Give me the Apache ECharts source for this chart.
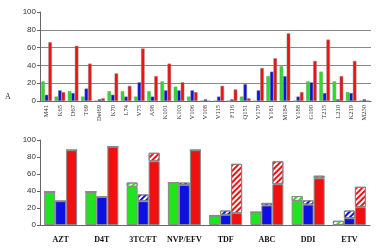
<!DOCTYPE html>
<html>
<head>
<meta charset="utf-8">
<script src="https://cdn.jsdelivr.net/npm/echarts@6/dist/echarts.min.js"></script>
<style>
html,body{margin:0;padding:0;background:#fff;}
#echarts{width:378px;height:252px;}
</style>
</head>
<body>
<div id="echarts"></div>
<script>
// top panel: mutations
var mutations = ['M41','K65','D67','T69','Del69','K70','L74','V75','A98','K101','K103','V106','V108',
	'V115','F116','Q151','V179','Y181','M184','Y188','G190','T215','L210','K219','M230'];
var mutGreen = [22,5,11,5,0,11,11,5,11,22,16,5,0,0,0,5,0,28,39,0,22,33,22,10,0];
var mutBlue  = [7,12,9,14,2,7,5,21,5,12,12,12,2,5,2,19,12,33,28,5,21,9,2,9,2];
var mutRed   = [66,10,62,42,3,31,17,59,28,42,21,10,0,17,13,3,37,48,76,10,45,69,28,45,0];

// bottom panel: drugs (solid part + hatched part)
var drugs = ['AZT','D4T','3TC/FT','NVP/EFV','TDF','ABC','DDI','ETV'];
var greenSolid = [39,39,45,50,11,15,28,0];
var greenHatch = [0,0,5,0,0,0,6,5];
var blueSolid  = [28,33,28,47,12,23,24,8];
var blueHatch  = [0,0,8,3,5,3,5,9];
var redSolid   = [88,92,75,88,14,48,55,21];
var redHatch   = [0,0,10,0,58,27,3,24];

var yTicks = [0,20,40,60,80,100];

var GREEN = '#1fe51f', BLUE = '#0c10e0', RED = '#f01010';

function hatch(c){
	return {
		color:'#fff',
		borderColor:'#888',
		borderWidth:1,
		decal:{
			symbol:'rect',
			dashArrayX:[1,0],
			dashArrayY:[2,2],
			rotation:-Math.PI/4,
			color:c
		}
	};
}
function solid(c,w){
	return {color:c,borderColor:'#888',borderWidth:w};
}

var myChart = echarts.init(document.querySelector('#echarts'));
var yLabel = {fontSize:8,color:'#333',fontFamily:'Liberation Sans',margin:4};
var option = {
	animation:false,
	graphic:[{type:'text',left:5,top:93,style:{text:'A',font:'8px "Liberation Serif"',fill:'#333'}}],
	grid:[
		{left:40,right:7,top:12,height:89},
		{left:40,right:8,top:140,height:85}
	],
	xAxis:[
		{
			type:'category',gridIndex:0,data:mutations,
			axisLine:{lineStyle:{color:'#666'}},
			axisTick:{length:3,lineStyle:{color:'#666'}},
			axisLabel:{rotate:90,interval:0,fontSize:6.5,fontFamily:'Liberation Serif',color:'#333',margin:4}
		},
		{
			type:'category',gridIndex:1,data:drugs,
			axisLine:{lineStyle:{color:'#666'}},
			axisTick:{length:4,lineStyle:{color:'#666'}},
			axisLabel:{interval:0,fontSize:8,fontWeight:'bold',fontFamily:'Liberation Serif',color:'#111',margin:11}
		}
	],
	yAxis:[
		{
			type:'value',gridIndex:0,min:yTicks[0],max:yTicks[5],interval:20,
			axisLine:{show:true,lineStyle:{color:'#666'}},
			axisTick:{show:true,length:3,lineStyle:{color:'#666'}},
			axisLabel:yLabel,
			// no line drawn at 100
			splitLine:{show:true,lineStyle:{color:['#888','#888','#888','#888','#888','rgba(0,0,0,0)']}}
		},
		{
			type:'value',gridIndex:1,min:yTicks[0],max:yTicks[5],interval:20,
			axisLine:{show:true,lineStyle:{color:'#666'}},
			axisTick:{show:true,length:3,lineStyle:{color:'#666'}},
			axisLabel:yLabel,
			splitLine:{show:false}
		}
	],
	series:[
		{type:'bar',xAxisIndex:0,yAxisIndex:0,data:mutGreen,barGap:'0%',barCategoryGap:'20%',itemStyle:solid(GREEN,0.5)},
		{type:'bar',xAxisIndex:0,yAxisIndex:0,data:mutBlue,itemStyle:solid(BLUE,0.5)},
		{type:'bar',xAxisIndex:0,yAxisIndex:0,data:mutRed,itemStyle:solid(RED,0.5)},

		{type:'bar',xAxisIndex:1,yAxisIndex:1,stack:'g',data:greenSolid,barGap:'0%',barCategoryGap:'20%',itemStyle:solid(GREEN,1)},
		{type:'bar',xAxisIndex:1,yAxisIndex:1,stack:'g',data:greenHatch,itemStyle:hatch(GREEN)},
		{type:'bar',xAxisIndex:1,yAxisIndex:1,stack:'b',data:blueSolid,itemStyle:solid(BLUE,1)},
		{type:'bar',xAxisIndex:1,yAxisIndex:1,stack:'b',data:blueHatch,itemStyle:hatch(BLUE)},
		{type:'bar',xAxisIndex:1,yAxisIndex:1,stack:'r',data:redSolid,itemStyle:solid(RED,1)},
		{type:'bar',xAxisIndex:1,yAxisIndex:1,stack:'r',data:redHatch,itemStyle:hatch(RED)}
	]
};
myChart.setOption(option);
</script>
</body>
</html>
